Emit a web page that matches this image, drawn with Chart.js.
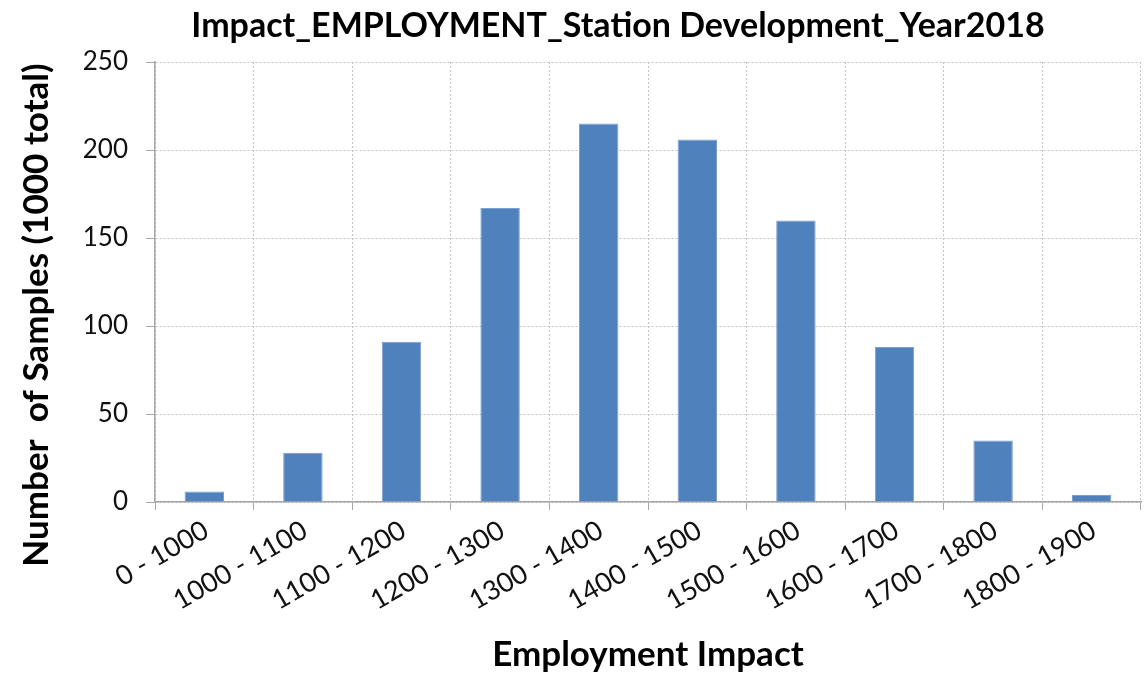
<!DOCTYPE html>
<html>
<head>
<meta charset="utf-8">
<title>Impact_EMPLOYMENT_Station Development_Year2018</title>
<script src="https://cdn.jsdelivr.net/npm/chart.js@4.4.0/dist/chart.umd.min.js"></script>
<style>
  html, body { margin: 0; padding: 0; background: #fff; }
  #wrap { width: 1144px; height: 674px; position: relative; }
</style>
</head>
<body>
<div id="wrap"><canvas id="histChart"></canvas></div>
<script>
// ヒストグラムのデータ
const binLabels = ['0 - 1000', '1000 - 1100', '1100 - 1200', '1200 - 1300', '1300 - 1400',
  '1400 - 1500', '1500 - 1600', '1600 - 1700', '1700 - 1800', '1800 - 1900'];
const sampleCounts = [6, 28, 91, 167, 215, 206, 160, 88, 35, 4];
const yTicks = [0, 50, 100, 150, 200, 250];

const FONT = 'Lato, "Open Sans", sans-serif';
const gridColor = '#c4c4c4';
const axisColor = '#a6a6a6';
const chartTitle = 'Impact_EMPLOYMENT_Station Development_Year2018';
const yTitleText = 'Number  of Samples (1000 total)';

// グラフタイトルと縦軸タイトルを自前で描く（位置を細かく合わせるため）
const titlesPlugin = {
  id: 'titles',
  afterDraw(chart) {
    const c = chart.ctx;
    c.save();
    c.fillStyle = '#000';
    c.textAlign = 'center';
    c.textBaseline = 'middle';
    c.font = `bold 34px ${FONT}`;
    c.fillText(chartTitle, 618, 26);

    c.translate(37, 315);
    c.rotate(-Math.PI / 2);
    c.font = `bold 35px ${FONT}`;
    c.fillText(yTitleText, 0, 0);
    c.restore();
  },
};

function drawChart() {
  const ctx = document.getElementById('histChart').getContext('2d');
  return new Chart(ctx, {
    type: 'bar',
    data: {
      labels: binLabels,
      datasets: [{
        data: sampleCounts,
        backgroundColor: '#4f81bd',
        borderColor: '#7a9fd0',
        borderWidth: 1,
        categoryPercentage: 1.0,
        barPercentage: 0.4,
      }],
    },
    plugins: [titlesPlugin],
    options: {
      responsive: true,
      maintainAspectRatio: false,
      animation: false,
      layout: { padding: { left: 0, right: 3, top: 62, bottom: 0 } },
      plugins: {
        legend: { display: false },
        tooltip: { enabled: false },
        title: { display: false },
      },
      scales: {
        x: {
          grid: {
            color: gridColor,
            offset: true,
            tickLength: 8,
            tickColor: axisColor,
            tickBorderDash: [],
          },
          border: { color: axisColor, width: 1.5, dash: [2, 2] },
          ticks: {
            color: '#111',
            font: { family: FONT, size: 27 },
            minRotation: 30,
            maxRotation: 30,
            padding: 4,
            labelOffset: 2,
          },
          title: {
            display: true,
            text: 'Employment Impact',
            color: '#000',
            font: { family: FONT, size: 35, weight: 'bold', lineHeight: 1.1 },
            padding: { top: 0, bottom: 0 },
          },
          afterFit: (scale) => { scale.height = 172; },
        },
        y: {
          min: 0,
          max: 250,
          afterBuildTicks: (scale) => { scale.ticks = yTicks.map(v => ({ value: v })); },
          grid: {
            color: gridColor,
            tickLength: 9,
            tickColor: axisColor,
            tickBorderDash: [],
          },
          border: { color: axisColor, width: 1.5, dash: [2, 2] },
          ticks: {
            color: '#111',
            font: { family: FONT, size: 26 },
            padding: 18,
          },
          title: { display: false },
          afterFit: (scale) => { scale.width = 155; },
        },
      },
    },
  });
}

window.addEventListener('DOMContentLoaded', () => {
  drawChart();
});
</script>
</body>
</html>
